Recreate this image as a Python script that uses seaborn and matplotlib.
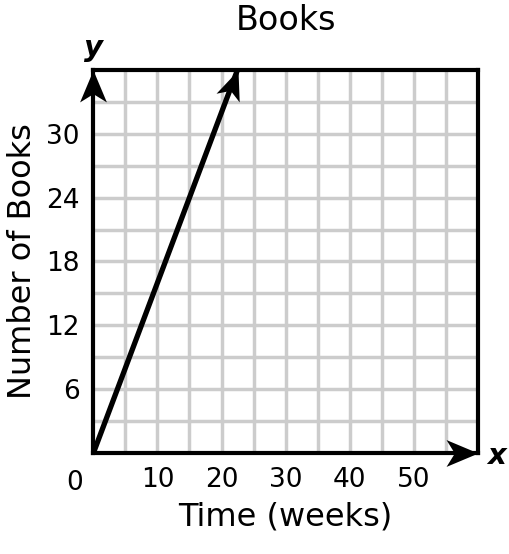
import numpy as np
import pandas as pd
import matplotlib
matplotlib.use("Agg")
import matplotlib.pyplot as plt
from matplotlib.path import Path
from matplotlib.transforms import Affine2D
import seaborn as sns

sns.set_theme(style="white")
plt.rcParams["font.family"] = ["DejaVu Sans"]
plt.rcParams["text.color"] = "black"
plt.rcParams["axes.labelcolor"] = "black"

# data
weeks = [0, 22.5]
books = [0, 36]
x_ticks = [10, 20, 30, 40, 50]
y_ticks = [6, 12, 18, 24, 30]
x_max, y_max = 60, 36

df = pd.DataFrame({"Time (weeks)": weeks, "Number of Books": books})

fig = plt.figure(figsize=(5.10, 5.54), dpi=100)
ax = fig.add_axes([0.183, 0.182, 0.754, 0.692])
ax.set_xlim(0, x_max)
ax.set_ylim(0, y_max)

# stealth arrow head, tip at origin pointing along +x
head_verts = [(0, 0), (-1, 0.42), (-0.74, 0), (-1, -0.42), (0, 0)]
head_codes = [Path.MOVETO, Path.LINETO, Path.LINETO, Path.LINETO, Path.CLOSEPOLY]


def arrow_head(ax, x0, y0, x1, y1, size=46):
    p0 = ax.transData.transform((x0, y0))
    p1 = ax.transData.transform((x1, y1))
    ang = np.arctan2(p1[1] - p0[1], p1[0] - p0[0])
    verts = Affine2D().rotate(ang).transform(np.array(head_verts))
    ax.plot([x1], [y1], marker=Path(verts, head_codes), ms=size,
            color="black", mew=0, zorder=6, clip_on=False)


# grid
for gx in np.arange(5, x_max, 5):
    ax.axvline(gx, color="#cccccc", lw=2.5, zorder=1)
for gy in np.arange(3, y_max, 3):
    ax.axhline(gy, color="#cccccc", lw=2.5, zorder=1)

sns.lineplot(data=df, x="Time (weeks)", y="Number of Books", ax=ax,
             color="black", lw=3.8, zorder=4, solid_capstyle="butt")
arrow_head(ax, weeks[0], books[0], weeks[-1], books[-1])

for s in ax.spines.values():
    s.set_color("black")
    s.set_linewidth(3)
    s.set_zorder(3)

# axis arrows
arrow_head(ax, 0, 0, x_max, 0)
arrow_head(ax, 0, 0, 0, y_max)

ax.set_xticks(x_ticks)
ax.set_yticks(y_ticks)
ax.tick_params(axis="both", length=0, labelsize=19, colors="black", pad=10)
ax.text(-1.6, -1.55, "0", fontsize=19, ha="right", va="top")

ax.set_xlabel("Time (weeks)", fontsize=23, labelpad=6)
ax.set_ylabel("Number of Books", fontsize=23, labelpad=6)
ax.set_title("Books", fontsize=24, pad=29)

ax.text(0, y_max + 0.7, "y", fontsize=21, fontweight="bold", fontstyle="italic",
        ha="center", va="bottom")
ax.text(x_max + 1.4, -0.3, "x", fontsize=21, fontweight="bold", fontstyle="italic",
        ha="left", va="center")

fig.savefig("out.png", dpi=100)
